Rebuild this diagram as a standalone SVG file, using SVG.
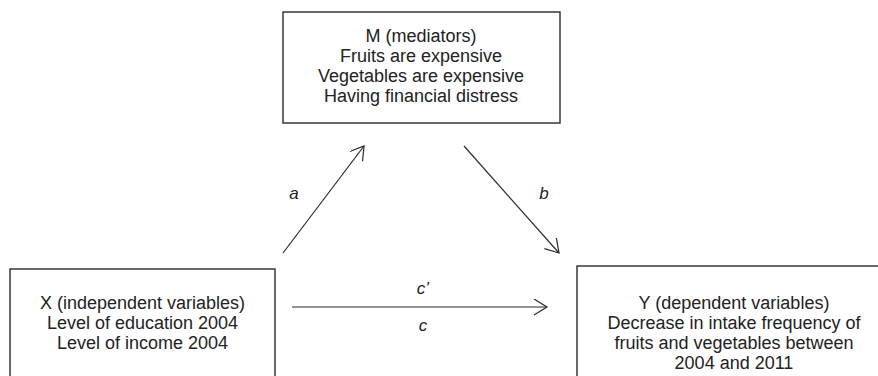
<svg xmlns="http://www.w3.org/2000/svg" width="878" height="376" viewBox="0 0 878 376">
<style>
.box{fill:#fff;stroke:#2a2a2a;stroke-width:1.4}
.t{font-family:"Liberation Sans",Arial,sans-serif;font-size:18px;fill:#222;text-anchor:middle}
.lbl{font-family:"Liberation Sans",Arial,sans-serif;font-size:17px;font-style:italic;fill:#222;text-anchor:middle}
.edge{stroke:#2a2a2a;stroke-width:1.2;fill:none;marker-end:url(#arr)}
</style>
<defs>
<marker id="arr" markerUnits="userSpaceOnUse" markerWidth="16" markerHeight="18" refX="14" refY="8" orient="auto">
<path d="M1,0 L14,8 L1,16" fill="none" stroke="#2a2a2a" stroke-width="1.2"/>
</marker>
</defs>
<rect width="878" height="376" fill="#fff"/>
<g id="node-M">
<rect class="box" x="283" y="12" width="277" height="111"/>
<text class="t" x="421" y="42">M (mediators)</text>
<text class="t" x="421" y="62">Fruits are expensive</text>
<text class="t" x="421" y="82">Vegetables are expensive</text>
<text class="t" x="421" y="102">Having financial distress</text>
</g>
<g id="node-X">
<rect class="box" x="10" y="269" width="265" height="120"/>
<text class="t" x="142.5" y="309">X (independent variables)</text>
<text class="t" x="142.5" y="329">Level of education 2004</text>
<text class="t" x="142.5" y="349">Level of income 2004</text>
</g>
<g id="node-Y">
<rect class="box" x="577" y="266" width="330" height="130"/>
<text class="t" x="734" y="309">Y (dependent variables)</text>
<text class="t" x="734" y="329">Decrease in intake frequency of</text>
<text class="t" x="734" y="349">fruits and vegetables between</text>
<text class="t" x="734" y="369">2004 and 2011</text>
</g>
<g id="connectors">
<line class="edge" x1="283" y1="253" x2="364" y2="146"/>
<line class="edge" x1="464" y1="146" x2="559" y2="253"/>
<line class="edge" x1="292" y1="307" x2="547" y2="307"/>
<text class="lbl" x="294" y="199">a</text>
<text class="lbl" x="544" y="199">b</text>
<text class="lbl" x="423" y="294">c’</text>
<text class="lbl" x="423" y="331">c</text>
</g>
</svg>
